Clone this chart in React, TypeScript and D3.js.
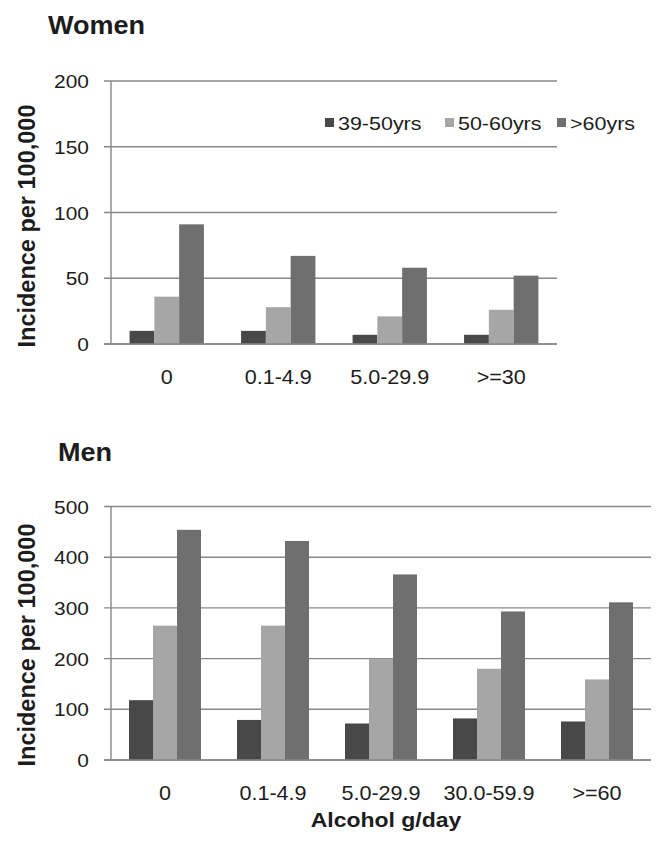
import React from "react";
import * as d3 from "d3";

const seriesNames = ["39-50yrs", "50-60yrs", ">60yrs"];
const seriesColors = ["#484848", "#a6a6a6", "#6f6f6f"];

const womenCategories = ["0", "0.1-4.9", "5.0-29.9", ">=30"];
const women3950 = [10, 10, 7, 7];
const women5060 = [36, 28, 21, 26];
const women60 = [91, 67, 58, 52];
const womenTicks = [0, 50, 100, 150, 200];

const menCategories = ["0", "0.1-4.9", "5.0-29.9", "30.0-59.9", ">=60"];
const men3950 = [118, 79, 72, 82, 76];
const men5060 = [265, 265, 199, 180, 159];
const men60 = [454, 432, 366, 293, 311];
const menTicks = [0, 100, 200, 300, 400, 500];

const FONT = "'Liberation Sans', Arial, sans-serif";
const TXT = "#1c1c1c";
const GRID = "#888888";

type PanelProps = {
  title: string;
  titleX: number;
  titleY: number;
  categories: string[];
  series: number[][];
  ticks: number[];
  x0: number;
  x1: number;
  yTop: number;
  yBottom: number;
  yLabelCenter: number;
};

function Panel(p: PanelProps) {
  const x = d3.scaleBand<string>().domain(p.categories).range([p.x0, p.x1]).padding(0);
  const yMax = p.ticks[p.ticks.length - 1];
  const y = d3.scaleLinear().domain([0, yMax]).range([p.yBottom, p.yTop]);
  const bw = x.bandwidth();
  const groupW = (bw * 3) / 4.5;
  const inner = d3.scaleBand<number>().domain([0, 1, 2]).range([0, groupW]).padding(0);
  return (
    <g>
      <text x={p.titleX} y={p.titleY} fontFamily={FONT} fontWeight="bold" fontSize={26} fill={TXT}
        transform={`translate(${p.titleX},${p.titleY}) scale(1.04,1) translate(${-p.titleX},${-p.titleY})`}>
        {p.title}
      </text>
      {p.ticks.map((t) => (
        <g key={t}>
          <line x1={p.x0 - 7} x2={p.x1} y1={y(t)} y2={y(t)} stroke={GRID} strokeWidth={1.4} />
          <text
            transform={`translate(89,${y(t) + 7}) scale(1.1,1)`}
            textAnchor="end"
            fontFamily={FONT}
            fontSize={19}
            fill={TXT}
          >
            {t}
          </text>
        </g>
      ))}
      <line x1={p.x0} x2={p.x0} y1={p.yTop} y2={p.yBottom} stroke={GRID} strokeWidth={1.4} />
      {p.categories.map((c, ci) => {
        const gx = (x(c) as number) + bw / 2 - groupW / 2;
        return (
          <g key={c}>
            {p.series.map((s, si) => (
              <rect
                key={si}
                x={gx + (inner(si) as number)}
                y={y(s[ci])}
                width={inner.bandwidth()}
                height={p.yBottom - y(s[ci])}
                fill={seriesColors[si]}
              />
            ))}
            <text
              transform={`translate(${(x(c) as number) + bw / 2},${p.yBottom + 40}) scale(1.08,1)`}
              textAnchor="middle"
              fontFamily={FONT}
              fontSize={20}
              fill={TXT}
            >
              {c}
            </text>
          </g>
        );
      })}
      <line x1={p.x0 - 7} x2={p.x1} y1={p.yBottom} y2={p.yBottom} stroke={GRID} strokeWidth={1.6} />
      <text
        transform={`translate(35,${p.yLabelCenter}) rotate(-90)`}
        textAnchor="middle"
        fontFamily={FONT}
        fontWeight="bold"
        fontSize={23.5}
        fill={TXT}
      >
        Incidence per 100,000
      </text>
    </g>
  );
}

export default function App() {
  const legendX = [325, 445, 557];
  return (
    <svg width={662} height={846} style={{ position: "absolute", left: 0, top: 0, background: "#fff" }}>
      <rect width={662} height={846} fill="#fff" />
      <Panel
        title="Women"
        titleX={48}
        titleY={34}
        categories={womenCategories}
        series={[women3950, women5060, women60]}
        ticks={womenTicks}
        x0={111}
        x1={557}
        yTop={81}
        yBottom={344}
        yLabelCenter={226}
      />
      {seriesNames.map((n, i) => (
        <g key={n}>
          <rect x={legendX[i]} y={118} width={9} height={9} fill={seriesColors[i]} />
          <text
            transform={`translate(${legendX[i] + 13},130) scale(1.13,1)`}
            fontFamily={FONT}
            fontSize={19}
            fill={TXT}
          >
            {n}
          </text>
        </g>
      ))}
      <Panel
        title="Men"
        titleX={58}
        titleY={461}
        categories={menCategories}
        series={[men3950, men5060, men60]}
        ticks={menTicks}
        x0={111}
        x1={651}
        yTop={506.5}
        yBottom={760}
        yLabelCenter={645}
      />
      <text
        transform={`translate(386,827) scale(1.15,1)`}
        textAnchor="middle"
        fontFamily={FONT}
        fontWeight="bold"
        fontSize={20}
        fill={TXT}
      >
        Alcohol g/day
      </text>
    </svg>
  );
}
